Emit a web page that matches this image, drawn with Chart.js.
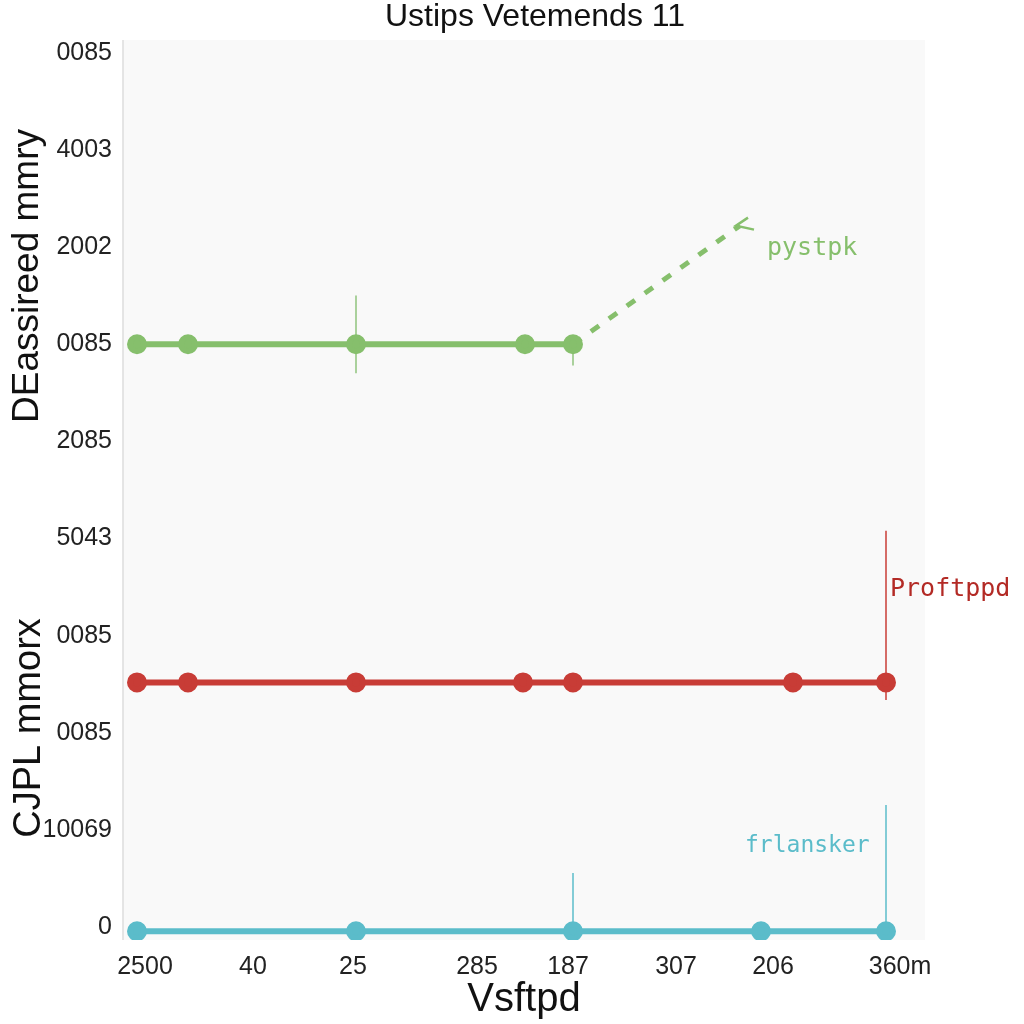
<!DOCTYPE html>
<html>
<head>
<meta charset="utf-8">
<script src="https://cdn.jsdelivr.net/npm/chart.js@4.4.0/dist/chart.umd.min.js"></script>
<style>
  html, body { margin: 0; padding: 0; background: #ffffff; }
  #wrap { width: 1024px; height: 1024px; }
</style>
</head>
<body>
<div id="wrap"><canvas id="chart" width="1024" height="1024"></canvas></div>
<script>
// tick labels (y from bottom to top)
const yTickLabels = ['0', '10069', '0085', '0085', '5043', '2085', '0085', '2002', '4003', '0085'];
const xTickLabels = ['2500', '40', '25', '285', '187', '307', '206', '360m'];
const xTickPos = [22, 130, 230, 354, 445, 553, 650, 777];

// series
const greenX = [14, 65, 233, 402, 450, 617];
const greenY = [6, 6, 6, 6, 6, 7.22];
const redX = [14, 65, 233, 400, 450, 670, 763];
const redY = [2.52, 2.52, 2.52, 2.52, 2.52, 2.52, 2.52];
const cyanX = [14, 233, 450, 638, 763];
const cyanY = [-0.04, -0.04, -0.04, -0.04, -0.04];

// thin vertical marker lines: [x, yFrom, yTo]
const greenMarks = [[233, 5.7, 6.5], [450, 5.78, 6.09]];
const redMarks = [[763, 2.34, 4.08]];
const cyanMarks = [[450, -0.04, 0.56], [763, -0.04, 1.26]];

const GREEN = '#86bf6c';
const RED = '#c83c36';
const CYAN = '#5bbcca';

function pts(xs, ys) {
  return xs.map(function (x, i) { return { x: x, y: ys[i] }; });
}

function markSets(marks, color) {
  return marks.map(function (m) {
    return {
      data: [{ x: m[0], y: m[1] }, { x: m[0], y: m[2] }],
      borderColor: color,
      borderWidth: 1.5,
      pointRadius: 0,
      order: 5
    };
  });
}

const datasets = [
  {
    label: 'pystpk',
    data: pts(greenX, greenY),
    borderColor: GREEN,
    backgroundColor: GREEN,
    borderWidth: 6,
    pointRadius: [7, 7, 7, 7, 7, 0],
    segment: {
      borderDash: function (ctx) { return ctx.p1DataIndex === greenX.length - 1 ? [10, 12] : undefined; },
      borderWidth: function (ctx) { return ctx.p1DataIndex === greenX.length - 1 ? 5 : 6; }
    }
  },
  {
    label: 'Proftppd',
    data: pts(redX, redY),
    borderColor: RED,
    backgroundColor: RED,
    borderWidth: 6,
    pointRadius: 7
  },
  {
    label: 'frlansker',
    data: pts(cyanX, cyanY),
    borderColor: CYAN,
    backgroundColor: CYAN,
    borderWidth: 6,
    pointRadius: 7
  }
].concat(markSets(greenMarks, '#8fc37c'), markSets(redMarks, RED), markSets(cyanMarks, CYAN));

// plot background, titles, series labels, arrow
const extras = {
  id: 'extras',
  beforeDraw: function (chart) {
    const c = chart.ctx, a = chart.chartArea;
    c.save();
    c.fillStyle = '#f9f9f9';
    c.fillRect(a.left, a.top, a.right - a.left, a.bottom - a.top);
    c.strokeStyle = '#dddddd';
    c.lineWidth = 1.5;
    c.beginPath();
    c.moveTo(a.left, a.top);
    c.lineTo(a.left, a.bottom);
    c.stroke();
    c.restore();
  },
  afterDraw: function (chart) {
    const c = chart.ctx, xs = chart.scales.x, ys = chart.scales.y;
    c.save();
    // main title
    c.fillStyle = '#111111';
    c.textAlign = 'center';
    c.textBaseline = 'middle';
    c.font = '32px "Liberation Sans Narrow", "Liberation Sans", sans-serif';
    c.fillText('Ustips Vetemends 11', 535, 17);

    // two y titles
    c.font = '37px "Liberation Sans", sans-serif';
    c.translate(28, 276);
    c.rotate(-Math.PI / 2);
    c.fillText('DEassireed mmry', 0, 0);
    c.restore();
    c.save();
    c.fillStyle = '#111111';
    c.textAlign = 'center';
    c.textBaseline = 'middle';
    c.font = '38px "Liberation Sans", sans-serif';
    c.translate(30, 728);
    c.rotate(-Math.PI / 2);
    c.fillText('CJPL mmorx', 0, 0);
    c.restore();

    // series labels
    c.save();
    c.textBaseline = 'middle';
    c.textAlign = 'left';
    c.font = '25px "DejaVu Sans Mono", monospace';
    c.fillStyle = GREEN;
    c.fillText('pystpk', xs.getPixelForValue(644), ys.getPixelForValue(6.98));
    c.fillStyle = '#b32a25';
    c.fillText('Proftppd', xs.getPixelForValue(767), ys.getPixelForValue(3.48));
    c.font = '23px "DejaVu Sans Mono", monospace';
    c.fillStyle = CYAN;
    c.fillText('frlansker', xs.getPixelForValue(622), ys.getPixelForValue(0.84));

    // arrow head at end of dashed green line
    const last = greenX.length - 1;
    const tx = xs.getPixelForValue(greenX[last]), ty = ys.getPixelForValue(greenY[last]);
    c.strokeStyle = GREEN;
    c.lineWidth = 2.5;
    c.beginPath();
    c.moveTo(tx + 8, ty - 8);
    c.lineTo(tx - 4, ty);
    c.lineTo(tx + 14, ty + 4);
    c.stroke();
    c.restore();
  }
};

new Chart(document.getElementById('chart'), {
  type: 'line',
  data: { datasets: datasets },
  options: {
    responsive: false,
    animation: false,
    layout: { padding: { top: 40, right: 99, left: 0, bottom: 0 } },
    plugins: {
      legend: { display: false },
      tooltip: { enabled: false },
      title: { display: false }
    },
    scales: {
      x: {
        type: 'linear',
        min: 0,
        max: 802,
        grid: { display: false, drawTicks: false },
        border: { display: false },
        afterBuildTicks: function (scale) {
          scale.ticks = xTickPos.map(function (v) { return { value: v }; });
        },
        afterFit: function (scale) { scale.height = 84; },
        ticks: {
          autoSkip: false,
          maxRotation: 0,
          padding: 12,
          color: '#222222',
          font: { family: '"Liberation Sans", sans-serif', size: 25 },
          callback: function (v) { return xTickLabels[xTickPos.indexOf(v)]; }
        },
        title: {
          display: true,
          text: 'Vsftpd',
          color: '#111111',
          padding: { top: 4, bottom: 0 },
          font: { family: '"Liberation Sans Narrow", "Liberation Sans", sans-serif', size: 40 }
        }
      },
      y: {
        type: 'linear',
        min: -0.13,
        max: 9.13,
        grid: { display: false, drawTicks: false },
        border: { display: false },
        afterBuildTicks: function (scale) {
          scale.ticks = yTickLabels.map(function (l, i) { return { value: i }; });
        },
        afterFit: function (scale) { scale.width = 123; },
        ticks: {
          padding: 11,
          color: '#222222',
          font: { family: '"Liberation Sans", sans-serif', size: 25 },
          callback: function (v) { return yTickLabels[v]; }
        }
      }
    }
  },
  plugins: [extras]
});
</script>
</body>
</html>
